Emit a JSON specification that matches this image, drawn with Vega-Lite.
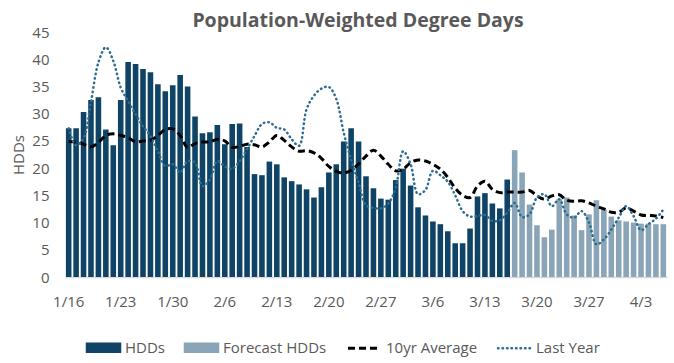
{
  "$schema": "https://vega.github.io/schema/vega-lite/v6.json",
  "autosize": "none",
  "width": 602,
  "height": 245,
  "padding": {"left": 65, "top": 32, "right": 7, "bottom": 86},
  "background": "white",
  "config": {
    "font": "Open Sans",
    "view": {"stroke": null},
    "axis": {"labelColor": "#595959", "titleColor": "#595959", "labelFontSize": 15, "titleFontSize": 15, "titleFontWeight": "normal"},
    "axisY": {"title": "HDDs", "values": [0,5,10,15,20,25,30,35,40,45], "labelOverlap": false, "grid": false, "domain": false, "ticks": false, "tickSize": 0, "labelPadding": 16, "titlePadding": 5},
    "legend": {"labelColor": "#595959", "labelFontSize": 15}
  },
  "title": {"text": "Population-Weighted Degree Days", "fontSize": 19.5, "fontWeight": "bold", "color": "#595959", "offset": -6, "dx": -8},
  "data": {"values": [
    {"d":"1/16","v":27.3,"t":"HDDs","a":24.9,"l":27.3},
    {"d":"1/17","v":27.3,"t":"HDDs","a":24.8,"l":24.2},
    {"d":"1/18","v":30.3,"t":"HDDs","a":24.4,"l":25.5},
    {"d":"1/19","v":32.5,"t":"HDDs","a":23.9,"l":32.2},
    {"d":"1/20","v":33.0,"t":"HDDs","a":24.7,"l":39.4},
    {"d":"1/21","v":27.1,"t":"HDDs","a":26.0,"l":42.2},
    {"d":"1/22","v":24.2,"t":"HDDs","a":26.3,"l":39.7},
    {"d":"1/23","v":32.5,"t":"HDDs","a":26.0,"l":34.8},
    {"d":"1/24","v":39.5,"t":"HDDs","a":25.6,"l":32.3},
    {"d":"1/25","v":39.1,"t":"HDDs","a":24.8,"l":29.9},
    {"d":"1/26","v":38.2,"t":"HDDs","a":25.0,"l":27.7},
    {"d":"1/27","v":37.6,"t":"HDDs","a":25.1,"l":25.9},
    {"d":"1/28","v":35.4,"t":"HDDs","a":26.0,"l":23.1},
    {"d":"1/29","v":34.1,"t":"HDDs","a":27.1,"l":20.4},
    {"d":"1/30","v":35.2,"t":"HDDs","a":27.2,"l":20.7},
    {"d":"1/31","v":37.1,"t":"HDDs","a":26.0,"l":19.2},
    {"d":"2/1","v":35.0,"t":"HDDs","a":23.8,"l":21.3},
    {"d":"2/2","v":29.5,"t":"HDDs","a":24.5,"l":21.0},
    {"d":"2/3","v":26.4,"t":"HDDs","a":24.8,"l":16.7},
    {"d":"2/4","v":26.6,"t":"HDDs","a":24.8,"l":17.9},
    {"d":"2/5","v":27.9,"t":"HDDs","a":25.3,"l":21.3},
    {"d":"2/6","v":24.4,"t":"HDDs","a":25.0,"l":20.3},
    {"d":"2/7","v":28.1,"t":"HDDs","a":23.8,"l":19.9},
    {"d":"2/8","v":28.2,"t":"HDDs","a":24.0,"l":21.3},
    {"d":"2/9","v":23.9,"t":"HDDs","a":24.4,"l":23.5},
    {"d":"2/10","v":18.9,"t":"HDDs","a":24.3,"l":25.9},
    {"d":"2/11","v":18.7,"t":"HDDs","a":23.9,"l":28.1},
    {"d":"2/12","v":21.2,"t":"HDDs","a":24.8,"l":28.4},
    {"d":"2/13","v":20.7,"t":"HDDs","a":26.0,"l":27.4},
    {"d":"2/14","v":18.3,"t":"HDDs","a":25.1,"l":27.1},
    {"d":"2/15","v":17.6,"t":"HDDs","a":23.9,"l":25.3},
    {"d":"2/16","v":17.0,"t":"HDDs","a":23.1,"l":24.1},
    {"d":"2/17","v":16.1,"t":"HDDs","a":23.2,"l":30.8},
    {"d":"2/18","v":14.6,"t":"HDDs","a":22.8,"l":33.3},
    {"d":"2/19","v":16.5,"t":"HDDs","a":21.8,"l":34.6},
    {"d":"2/20","v":19.2,"t":"HDDs","a":20.3,"l":34.9},
    {"d":"2/21","v":20.7,"t":"HDDs","a":19.4,"l":32.7},
    {"d":"2/22","v":24.9,"t":"HDDs","a":19.1,"l":26.5},
    {"d":"2/23","v":27.3,"t":"HDDs","a":19.6,"l":21.6},
    {"d":"2/24","v":24.9,"t":"HDDs","a":20.8,"l":17.3},
    {"d":"2/25","v":18.5,"t":"HDDs","a":22.2,"l":13.2},
    {"d":"2/26","v":16.3,"t":"HDDs","a":23.3,"l":12.7},
    {"d":"2/27","v":14.4,"t":"HDDs","a":22.2,"l":12.6},
    {"d":"2/28","v":14.2,"t":"HDDs","a":20.7,"l":13.5},
    {"d":"3/1","v":17.8,"t":"HDDs","a":19.5,"l":16.4},
    {"d":"3/2","v":19.9,"t":"HDDs","a":19.8,"l":23.1},
    {"d":"3/3","v":16.8,"t":"HDDs","a":21.0,"l":20.7},
    {"d":"3/4","v":12.8,"t":"HDDs","a":21.5,"l":15.2},
    {"d":"3/5","v":11.3,"t":"HDDs","a":21.3,"l":16.0},
    {"d":"3/6","v":10.2,"t":"HDDs","a":20.7,"l":19.5},
    {"d":"3/7","v":9.7,"t":"HDDs","a":19.8,"l":18.7},
    {"d":"3/8","v":8.4,"t":"HDDs","a":18.3,"l":17.5},
    {"d":"3/9","v":6.2,"t":"HDDs","a":16.3,"l":15.0},
    {"d":"3/10","v":6.2,"t":"HDDs","a":15.0,"l":12.1},
    {"d":"3/11","v":8.9,"t":"HDDs","a":14.6,"l":11.1},
    {"d":"3/12","v":14.8,"t":"HDDs","a":16.7,"l":11.2},
    {"d":"3/13","v":15.4,"t":"HDDs","a":17.6,"l":11.4},
    {"d":"3/14","v":13.5,"t":"HDDs","a":16.1,"l":10.3},
    {"d":"3/15","v":12.6,"t":"HDDs","a":15.5,"l":10.4},
    {"d":"3/16","v":17.9,"t":"HDDs","a":15.6,"l":11.8},
    {"d":"3/17","v":23.3,"t":"Forecast HDDs","a":15.6,"l":13.6},
    {"d":"3/18","v":19.2,"t":"Forecast HDDs","a":15.6,"l":11.0},
    {"d":"3/19","v":13.3,"t":"Forecast HDDs","a":15.9,"l":11.5},
    {"d":"3/20","v":9.5,"t":"Forecast HDDs","a":14.9,"l":14.6},
    {"d":"3/21","v":7.3,"t":"Forecast HDDs","a":14.3,"l":15.2},
    {"d":"3/22","v":8.7,"t":"Forecast HDDs","a":14.9,"l":13.0},
    {"d":"3/23","v":14.3,"t":"Forecast HDDs","a":15.1,"l":14.3},
    {"d":"3/24","v":14.6,"t":"Forecast HDDs","a":14.1,"l":11.5},
    {"d":"3/25","v":11.3,"t":"Forecast HDDs","a":13.9,"l":10.9},
    {"d":"3/26","v":8.6,"t":"Forecast HDDs","a":14.0,"l":12.1},
    {"d":"3/27","v":11.5,"t":"Forecast HDDs","a":13.6,"l":10.0},
    {"d":"3/28","v":14.1,"t":"Forecast HDDs","a":13.0,"l":6.0},
    {"d":"3/29","v":12.4,"t":"Forecast HDDs","a":12.5,"l":6.9},
    {"d":"3/30","v":11.1,"t":"Forecast HDDs","a":11.9,"l":8.7},
    {"d":"3/31","v":10.4,"t":"Forecast HDDs","a":11.9,"l":10.9},
    {"d":"4/1","v":10.2,"t":"Forecast HDDs","a":12.7,"l":13.0},
    {"d":"4/2","v":10.0,"t":"Forecast HDDs","a":12.1,"l":11.2},
    {"d":"4/3","v":9.8,"t":"Forecast HDDs","a":11.4,"l":8.6},
    {"d":"4/4","v":9.8,"t":"Forecast HDDs","a":11.3,"l":9.7},
    {"d":"4/5","v":9.7,"t":"Forecast HDDs","a":11.2,"l":10.7},
    {"d":"4/6","v":9.7,"t":"Forecast HDDs","a":10.9,"l":12.4}
  ]},
  "encoding": {
    "x": {
      "field": "d", "type": "ordinal", "sort": null,
      "scale": {"paddingInner": 0.25, "paddingOuter": 0.12},
      "axis": {
        "title": null, "labelAngle": 0, "ticks": false, "tickSize": 0, "labelPadding": 17, "labelOverlap": false,
        "values": ["1/16","1/23","1/30","2/6","2/13","2/20","2/27","3/6","3/13","3/20","3/27","4/3"],
        "domainColor": "#d9d9d9", "domainWidth": 1.5
      }
    }
  },
  "layer": [
    {
      "mark": {"type": "bar"},
      "encoding": {
        "y": {"field": "v", "type": "quantitative", "scale": {"domain": [0, 45]}, "title": "HDDs"},
        "color": {
          "field": "t", "type": "nominal",
          "scale": {"domain": ["HDDs", "Forecast HDDs", "10yr Average", "Last Year"], "range": ["#0f4466", "#8aa5b7", "#000000", "#2e6d91"]},
          "legend": {
            "title": null, "orient": "none", "direction": "horizontal", "legendX": 31, "legendY": 308,
            "symbolSize": 1089, "labelOffset": 14, "columnPadding": 15,
            "encode": {
              "symbols": {
                "update": {
                  "shape": {"signal": "(datum.value == '10yr Average' || datum.value == 'Last Year') ? 'M-1,0H1' : 'M-1,-0.24H1V0.24H-1Z'"},
                  "fill": {"signal": "datum.value == 'HDDs' ? '#0f4466' : (datum.value == 'Forecast HDDs' ? '#8aa5b7' : 'transparent')"},
                  "stroke": {"signal": "datum.value == '10yr Average' ? '#000000' : (datum.value == 'Last Year' ? '#2e6d91' : 'transparent')"},
                  "strokeWidth": {"signal": "datum.value == '10yr Average' ? 3 : 2.5"},
                  "strokeDash": {"signal": "datum.value == '10yr Average' ? [7,4] : (datum.value == 'Last Year' ? [0.5,4] : [])"},
                  "strokeCap": {"signal": "datum.value == 'Last Year' ? 'round' : 'butt'"},
                  "opacity": {"value": 1}
                }
              }
            }
          }
        }
      }
    },
    {
      "mark": {"type": "line", "interpolate": "catmull-rom", "strokeWidth": 3, "strokeDash": [7, 4]},
      "encoding": {
        "y": {"field": "a", "type": "quantitative", "title": "HDDs"},
        "color": {"datum": "10yr Average"}
      }
    },
    {
      "mark": {"type": "line", "interpolate": "catmull-rom", "strokeWidth": 2.5, "strokeDash": [0.5, 4], "strokeCap": "round"},
      "encoding": {
        "y": {"field": "l", "type": "quantitative", "title": "HDDs"},
        "color": {"datum": "Last Year"}
      }
    }
  ]
}
